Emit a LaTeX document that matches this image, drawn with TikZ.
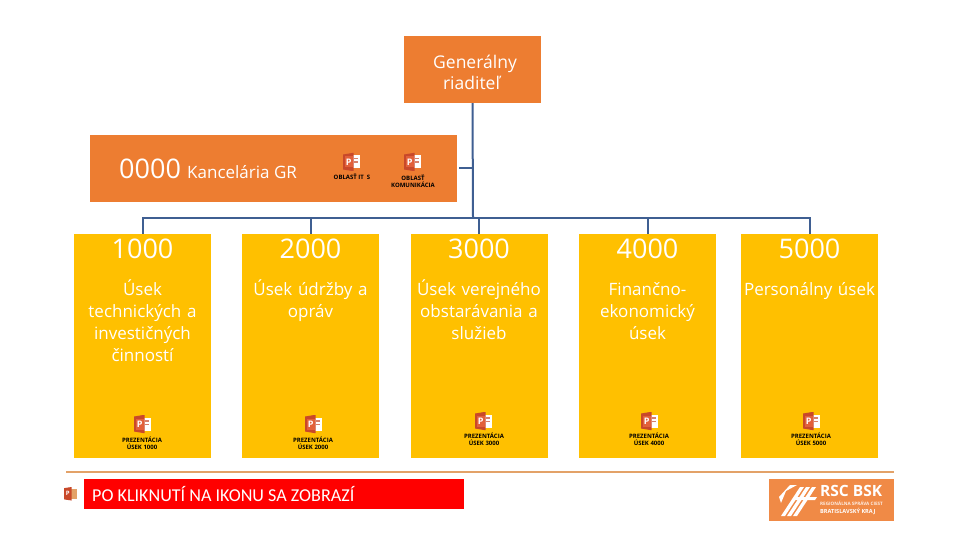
\documentclass[tikz,border=0pt]{standalone}
\usepackage{fontspec}
\setmainfont{Open Sans}
\newfontfamily\capfont{Carlito}
\definecolor{orangeb}{HTML}{ED7D31}
\definecolor{yellowb}{HTML}{FFC000}
\definecolor{linkc}{HTML}{3F5F92}
\definecolor{rulec}{HTML}{E3A268}
\definecolor{logoc}{HTML}{F08A46}
\definecolor{pptd}{HTML}{C8482A}
\definecolor{pptm}{HTML}{E2603A}
\newcommand{\fs}[1]{\fontsize{#1}{#1}\selectfont}
\newcommand{\ppticon}[2]{%
  \begin{scope}[shift={(#1,#2)}]
    \fill[white] (8,2.5) rectangle (17,15.5);
    \fill[pptd!70] (10.5,5) rectangle (15,6.5);
    \fill[pptd!70] (10.5,8.5) rectangle (15,10);
    \fill[pptd] (0,1.5) -- (9,0) -- (10.5,0) -- (10.5,18) -- (9,18) -- (0,16.5) -- cycle;
    \fill[pptm] (1.5,3.5) rectangle (10,14.5);
    \node[text=white,font=\bfseries\fs{9},inner sep=0pt] at (5.7,9) {P};
  \end{scope}}
\tikzset{
  x=1pt,y=-1pt,
  orgbox/.style={rectangle,draw=none,fill=orangeb,inner sep=0pt,minimum height=67pt},
  unitbox/.style={rectangle,draw=none,fill=yellowb,inner sep=0pt,minimum width=137pt,minimum height=224pt},
  code/.style={text=white,font=\fs{27},inner sep=0pt},
  unittext/.style={text=white,font=\fontsize{17}{22}\selectfont,inner sep=0pt,align=center,anchor=north,text width=137pt},
  icontext/.style={font=\bfseries\fs{6},inner sep=0pt,align=center,text=black},
  link/.style={draw=linkc,line width=2pt}
}
\begin{document}
\begin{tikzpicture}
\useasboundingbox (0,0) rectangle (960,540);
\fill[white] (0,0) rectangle (960,540);
% boxes
\node[orgbox,minimum width=137pt] (top) at (472.5,69.5) {};
\node[orgbox,minimum width=367pt] (gr) at (273.5,168.5) {};
\node[unitbox] (b1) at (142.5,346) {};
\node[unitbox] (b2) at (310.5,346) {};
\node[unitbox] (b3) at (479,346) {};
\node[unitbox] (b4) at (647.5,346) {};
\node[unitbox] (b5) at (809.5,346) {};
% connectors
\coordinate (bus) at (473,218);
\coordinate (tap) at (473,168.5);
\draw[link] (top.south) -- (bus);
\draw[link] (bus) -| (b1.north);
\draw[link] (bus) -| (b2.north);
\draw[link] (bus) -| (b3.north);
\draw[link] (bus) -| (b4.north);
\draw[link] (bus) -| (b5.north);
\draw[link,shorten <=2pt] (gr.east) -- (tap);
% top texts
\node[text=white,font=\fs{17.5},inner sep=0pt,align=center] (toptext) at (475,72.5) {Generálny\\[4pt]\hspace*{-7pt}riaditeľ};
\node[code,anchor=west] (grcode) at (119,169) {0000};
\node[text=white,font=\fs{17},inner sep=0pt,anchor=west] (grname) at (187,172) {Kancelária GR};
% unit texts
\foreach \n/\c/\t in {b1/1000/{Úsek\\technických a\\investičných\\činností},b2/2000/{Úsek údržby a\\opráv},b3/3000/{Úsek verejného\\obstarávania a\\služieb},b4/4000/{Finančno-\\ekonomický\\úsek},b5/5000/{Personálny úsek}}{
  \node[code] (\n code) at ([yshift=-15pt]\n.north) {\c};
  \node[unittext] (\n text) at ([yshift=-45pt]\n.north) {\rule{0pt}{16pt}\t};
}
% icons
\ppticon{343}{153}
\ppticon{404}{153}
\node[icontext] (ic1) at (352,177) {OBLASŤ IT \ S};
\node[icontext,align=center] (ic2) at (413,181) {OBLASŤ\\[1pt]KOMUNIKÁCIA};
\ppticon{134}{415}
\ppticon{305}{415}
\ppticon{475}{412}
\ppticon{641}{412}
\ppticon{803}{412}
\node[icontext] (p1) at (142,443) {PREZENTÁCIA\\[1.5pt]ÚSEK 1000};
\node[icontext] (p2) at (313,443) {PREZENTÁCIA\\[1.5pt]ÚSEK 2000};
\node[icontext] (p3) at (484,439) {PREZENTÁCIA\\[1.5pt]ÚSEK 3000};
\node[icontext] (p4) at (649,439) {PREZENTÁCIA\\[1.5pt]ÚSEK 4000};
\node[icontext] (p5) at (811,439) {PREZENTÁCIA\\[1.5pt]ÚSEK 5000};
% bottom rule
\fill[rulec] (66,470.5) rectangle (894,472.5);
% note
\begin{scope}[shift={(64,487)},scale=0.75]
\fill[rulec] (8,2.5) rectangle (17,15.5);
\fill[pptd] (0,1.5) -- (10,0) -- (10,18) -- (0,16.5) -- cycle;
\node[text=white,font=\bfseries\fs{6},inner sep=0pt] at (5,9) {P};
\end{scope}
\node[rectangle,fill=red,inner sep=0pt,minimum width=380pt,minimum height=30pt] (note) at (274,494) {};
\node[text=white,font=\capfont\fs{18.1},inner sep=0pt,anchor=west] (notetext) at (92,494) {PO KLIKNUTÍ NA IKONU SA ZOBRAZÍ};
% logo
\node[rectangle,fill=logoc,inner sep=0pt,minimum width=125pt,minimum height=42pt] (logo) at (831.5,500) {};
\foreach \dx in {0,6,12}{
  \fill[white] (781+\dx,516) -- (800+\dx,487) -- (804+\dx,487) -- (785+\dx,516) -- cycle;
}
\fill[white] (779,497) -- (790,485) -- (797,485) -- (786,491) -- (781,503) -- cycle;
\fill[white] (794,497) -- (817,497) -- (815,500) -- (792,500) -- cycle;
\node[text=white,font=\bfseries\fs{15.5},inner sep=0pt,anchor=west] (logot1) at (820,491) {RSC BSK};
\node[text=white!85!logoc,font=\bfseries\fs{4.6},inner sep=0pt,anchor=west] (logot2) at (820,503) {REGIONÁLNA SPRÁVA CIEST};
\node[text=white,font=\bfseries\fs{5.6},inner sep=0pt,anchor=west] (logot3) at (820,511) {BRATISLAVSKÝ KRAJ};
\end{tikzpicture}
\end{document}
